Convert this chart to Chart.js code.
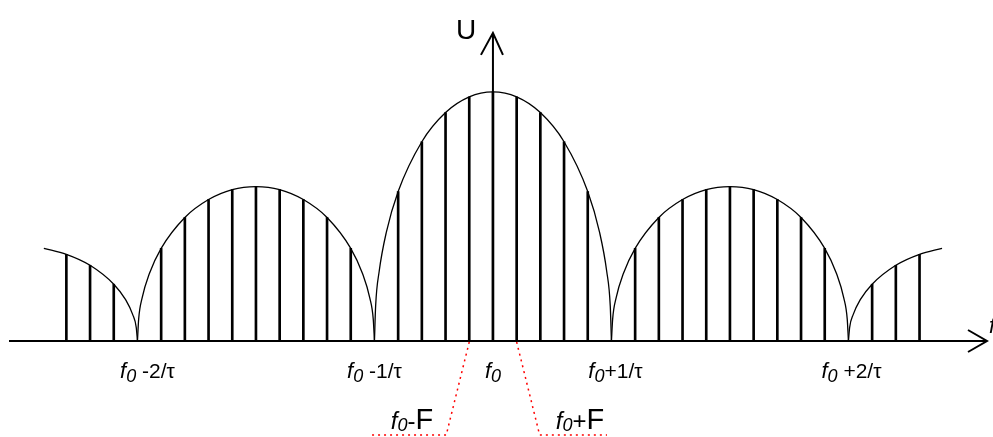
<!DOCTYPE html>
<html>
<head>
<meta charset="utf-8">
<script src="https://cdn.jsdelivr.net/npm/chart.js@4.4.1/dist/chart.umd.min.js"></script>
<style>
  html, body { margin: 0; padding: 0; background: #fff; }
  #wrap { width: 993px; height: 437px; position: relative; }
</style>
</head>
<body>
<div id="wrap"><canvas id="spectrum"></canvas></div>
<script>
// Spectral line positions (in steps of the line spacing F, f0 = 0) and their heights (main peak = 100)
const lineK = [-18, -17, -16, -14, -13, -12, -11, -10, -9, -8, -7, -6, -4, -3, -2, -1, 0,
               1, 2, 3, 4, 6, 7, 8, 9, 10, 11, 12, 13, 14, 16, 17, 18];
const lineH = [34.8, 30.4, 22.8, 37.2, 49.6, 56.8, 60.8, 62, 60.8, 56.8, 49.6, 37.2, 60, 80, 91.7, 98, 100,
               98, 91.7, 80, 60, 37.2, 49.6, 56.8, 60.8, 62, 60.8, 56.8, 49.6, 37.2, 22.8, 30.4, 34.8];

// Envelope lobes
const edgeLeftX  = [-18.95, -18, -17, -16, -15.5, -15.2, -15.05, -15];
const edgeLeftY  = [37.2, 34.8, 30.4, 22.8, 16.6, 10.6, 5.4, 0];
const sideLeftX  = [-15, -14.95, -14.8, -14.5, -14, -13, -12, -11, -10, -9, -8, -7, -6, -5.5, -5.2, -5.05, -5];
const sideLeftY  = [0, 8.7, 17.4, 27, 37.2, 49.6, 56.8, 60.8, 62, 60.8, 56.8, 49.6, 37.2, 27, 17.4, 8.7, 0];
const mainX      = [-5, -4.95, -4.8, -4.5, -4, -3, -2, -1, 0, 1, 2, 3, 4, 4.5, 4.8, 4.95, 5];
const mainY      = [0, 14.1, 28, 43.6, 60, 80, 91.7, 98, 100, 98, 91.7, 80, 60, 43.6, 28, 14.1, 0];
const sideRightX = [5, 5.05, 5.2, 5.5, 6, 7, 8, 9, 10, 11, 12, 13, 14, 14.5, 14.8, 14.95, 15];
const sideRightY = [0, 8.7, 17.4, 27, 37.2, 49.6, 56.8, 60.8, 62, 60.8, 56.8, 49.6, 37.2, 27, 17.4, 8.7, 0];
const edgeRightX = [15, 15.05, 15.2, 15.5, 16, 17, 18, 18.95];
const edgeRightY = [0, 5.4, 10.6, 16.6, 22.8, 30.4, 34.8, 37.2];

// Axis tick labels under the frequency axis
const tickK     = [-15, -5, 0, 5, 15];
const tickRest  = [' -2/τ', ' -1/τ', '', '+1/τ', ' +2/τ'];

function pts(xs, ys) {
    return xs.map((x, i) => ({ x: x, y: ys[i] }));
}

function lobe(xs, ys) {
    return {
        type: 'line',
        data: pts(xs, ys),
        borderColor: '#000',
        borderWidth: 1.3,
        pointRadius: 0,
        cubicInterpolationMode: 'monotone',
        fill: false
    };
}

// draw a label made of pieces with different fonts, centred on cx
function drawPieces(ctx, pieces, cx, baseline) {
    let total = 0;
    pieces.forEach(p => { ctx.font = p.font; p.w = ctx.measureText(p.t).width; total += p.w; });
    let x = cx - total / 2;
    pieces.forEach(p => {
        ctx.font = p.font;
        ctx.fillText(p.t, x, baseline + (p.dy || 0));
        x += p.w;
    });
}

const sans = '"Liberation Sans", Arial, sans-serif';

const decorations = {
    id: 'decorations',
    afterDraw(chart) {
        const ctx = chart.ctx;
        const xs = chart.scales.x;
        const ys = chart.scales.y;
        const y0 = ys.getPixelForValue(0);
        const xf0 = xs.getPixelForValue(0);
        ctx.save();
        ctx.strokeStyle = '#000';
        ctx.fillStyle = '#000';
        ctx.lineWidth = 2;

        // frequency axis with arrow
        ctx.beginPath();
        ctx.moveTo(9, y0);
        ctx.lineTo(987, y0);
        ctx.moveTo(968, y0 - 11);
        ctx.lineTo(987, y0);
        ctx.lineTo(968, y0 + 11);
        ctx.stroke();

        // amplitude axis with arrow
        const yTop = ys.getPixelForValue(123.7);
        ctx.beginPath();
        ctx.moveTo(xf0, y0);
        ctx.lineTo(xf0, yTop);
        ctx.moveTo(xf0 - 12, yTop + 22);
        ctx.lineTo(xf0, yTop);
        ctx.lineTo(xf0 + 10, yTop + 22);
        ctx.stroke();

        ctx.textBaseline = 'alphabetic';
        ctx.font = '28px ' + sans;
        ctx.fillText('U', 456, 39);
        ctx.font = 'italic 22px ' + sans;
        ctx.fillText('f', 989, 333);

        // tick labels
        const nudge = [10, 0, 0, 4, 3];
        tickK.forEach((k, i) => {
            const pieces = [
                { t: 'f', font: 'italic 22px ' + sans },
                { t: '0', font: 'italic 18px ' + sans, dy: 4 }
            ];
            if (tickRest[i]) pieces.push({ t: tickRest[i], font: '21px ' + sans });
            drawPieces(ctx, pieces, xs.getPixelForValue(k) + nudge[i], 378);
        });

        // f0-F and f0+F labels with red dotted leaders
        ctx.strokeStyle = '#ff0000';
        ctx.lineWidth = 1.5;
        ctx.setLineDash([2, 4]);
        const xl = xs.getPixelForValue(-1);
        const xr = xs.getPixelForValue(1);
        ctx.beginPath();
        ctx.moveTo(xl, y0 + 1);
        ctx.lineTo(xl - 23, 435);
        ctx.lineTo(372, 435);
        ctx.moveTo(xr, y0 + 1);
        ctx.lineTo(xr + 23, 435);
        ctx.lineTo(607, 435);
        ctx.stroke();
        ctx.setLineDash([]);

        ctx.fillStyle = '#000';
        drawPieces(ctx, [
            { t: 'f', font: 'italic 24px ' + sans },
            { t: '0', font: 'italic 18px ' + sans, dy: 2 },
            { t: '-', font: '24px ' + sans },
            { t: 'F', font: '29px ' + sans }
        ], 412, 429);
        drawPieces(ctx, [
            { t: 'f', font: 'italic 24px ' + sans },
            { t: '0', font: 'italic 18px ' + sans, dy: 2 },
            { t: '+', font: '24px ' + sans },
            { t: 'F', font: '29px ' + sans }
        ], 580, 429);
        ctx.restore();
    }
};

new Chart(document.getElementById('spectrum'), {
    type: 'line',
    data: {
        datasets: [
            {
                type: 'bar',
                data: pts(lineK, lineH),
                backgroundColor: '#000',
                borderWidth: 0,
                barThickness: 2
            },
            lobe(edgeLeftX, edgeLeftY),
            lobe(sideLeftX, sideLeftY),
            lobe(mainX, mainY),
            lobe(sideRightX, sideRightY),
            lobe(edgeRightX, edgeRightY)
        ]
    },
    options: {
        responsive: true,
        maintainAspectRatio: false,
        animation: false,
        events: [],
        layout: { padding: { left: 0, right: 0, top: 0, bottom: 96 } },
        plugins: {
            legend: { display: false },
            tooltip: { enabled: false }
        },
        scales: {
            x: { type: 'linear', min: -20.8, max: 21.1, offset: false, display: false },
            y: { type: 'linear', min: 0, max: 136.9, display: false }
        }
    },
    plugins: [decorations]
});
</script>
</body>
</html>
